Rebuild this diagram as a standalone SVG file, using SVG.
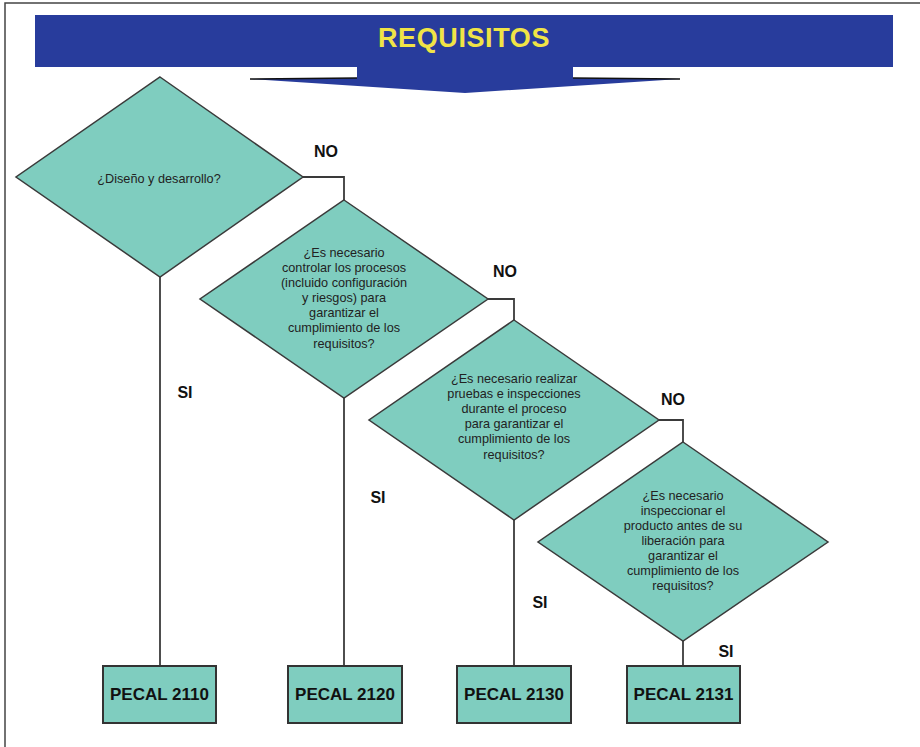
<svg xmlns="http://www.w3.org/2000/svg" width="920" height="747" viewBox="0 0 920 747">
<style>
.dia{fill:#7fcdbf;stroke:#3a3a3a;stroke-width:1.5}
.box{fill:#7fcdbf;stroke:#333;stroke-width:2}
.t{font-family:"Liberation Sans",Arial,sans-serif;font-size:12.7px;fill:#222;text-anchor:middle}
.lbl{font-family:"Liberation Sans",Arial,sans-serif;font-size:16px;font-weight:bold;fill:#111;text-anchor:middle}
.bt{font-family:"Liberation Sans",Arial,sans-serif;font-size:17px;font-weight:bold;fill:#111;text-anchor:middle}
.ln{fill:none;stroke:#3a3a3a;stroke-width:1.8}
</style>
<rect width="920" height="747" fill="#fff"/>
<path d="M5,747 V3 H920" fill="none" stroke="#444" stroke-width="1.5"/>
<g id="header">
<rect x="35" y="15" width="858" height="52" fill="#283c9c"/>
<polygon points="357,66 573,66 573,78 680,79 465,93 250,79 357,78" fill="#283c9c"/>
<path d="M250,79 L357,78 M573,78 L680,79" stroke="#111" stroke-width="1.5" fill="none"/>
<text x="464" y="47" font-family="'Liberation Sans',Arial,sans-serif" font-size="27" font-weight="bold" fill="#f0e446" text-anchor="middle" letter-spacing="0.6">REQUISITOS</text>
</g>
<g id="connectors">
<path class="ln" d="M303,177 H344 V200"/>
<path class="ln" d="M488,299 H514 V320"/>
<path class="ln" d="M659,420 H683 V442"/>
<path class="ln" d="M160,277 V666"/>
<path class="ln" d="M344,398 V666"/>
<path class="ln" d="M514,520 V666"/>
<path class="ln" d="M683,641 V666"/>
<text class="lbl" x="326" y="157">NO</text>
<text class="lbl" x="505" y="277">NO</text>
<text class="lbl" x="673" y="405">NO</text>
<text class="lbl" x="185" y="398">SI</text>
<text class="lbl" x="378" y="503">SI</text>
<text class="lbl" x="540" y="608">SI</text>
<text class="lbl" x="726" y="657">SI</text>
</g>
<g id="d1">
<polygon class="dia" points="160,77 303,177 160,277 16,177"/>
<text class="t" x="159" y="183">¿Diseño y desarrollo?</text>
</g>
<g id="d2">
<polygon class="dia" points="344,200 488,299 344,398 200,299"/>
<text class="t" x="344" y="257">¿Es necesario</text>
<text class="t" x="344" y="272">controlar los procesos</text>
<text class="t" x="344" y="287">(incluido configuración</text>
<text class="t" x="344" y="302">y riesgos) para</text>
<text class="t" x="344" y="317">garantizar el</text>
<text class="t" x="344" y="332">cumplimiento de los</text>
<text class="t" x="344" y="348">requisitos?</text>
</g>
<g id="d3">
<polygon class="dia" points="514,320 659,420 514,520 369,420"/>
<text class="t" x="514" y="383">¿Es necesario realizar</text>
<text class="t" x="514" y="398">pruebas e inspecciones</text>
<text class="t" x="514" y="413">durante el proceso</text>
<text class="t" x="514" y="428">para garantizar el</text>
<text class="t" x="514" y="443">cumplimiento de los</text>
<text class="t" x="514" y="459">requisitos?</text>
</g>
<g id="d4">
<polygon class="dia" points="683,442 828,542 683,641 538,542"/>
<text class="t" x="683" y="500">¿Es necesario</text>
<text class="t" x="683" y="515">inspeccionar el</text>
<text class="t" x="683" y="530">producto antes de su</text>
<text class="t" x="683" y="545">liberación para</text>
<text class="t" x="683" y="560">garantizar el</text>
<text class="t" x="683" y="575">cumplimiento de los</text>
<text class="t" x="683" y="590">requisitos?</text>
</g>
<g id="p2110">
<rect class="box" x="103" y="666" width="113" height="57"/>
<text class="bt" x="159.5" y="700">PECAL 2110</text>
</g>
<g id="p2120">
<rect class="box" x="288" y="666" width="114" height="57"/>
<text class="bt" x="345" y="700">PECAL 2120</text>
</g>
<g id="p2130">
<rect class="box" x="457" y="666" width="114" height="57"/>
<text class="bt" x="514" y="700">PECAL 2130</text>
</g>
<g id="p2131">
<rect class="box" x="627" y="666" width="113" height="57"/>
<text class="bt" x="683.5" y="700">PECAL 2131</text>
</g>
</svg>
